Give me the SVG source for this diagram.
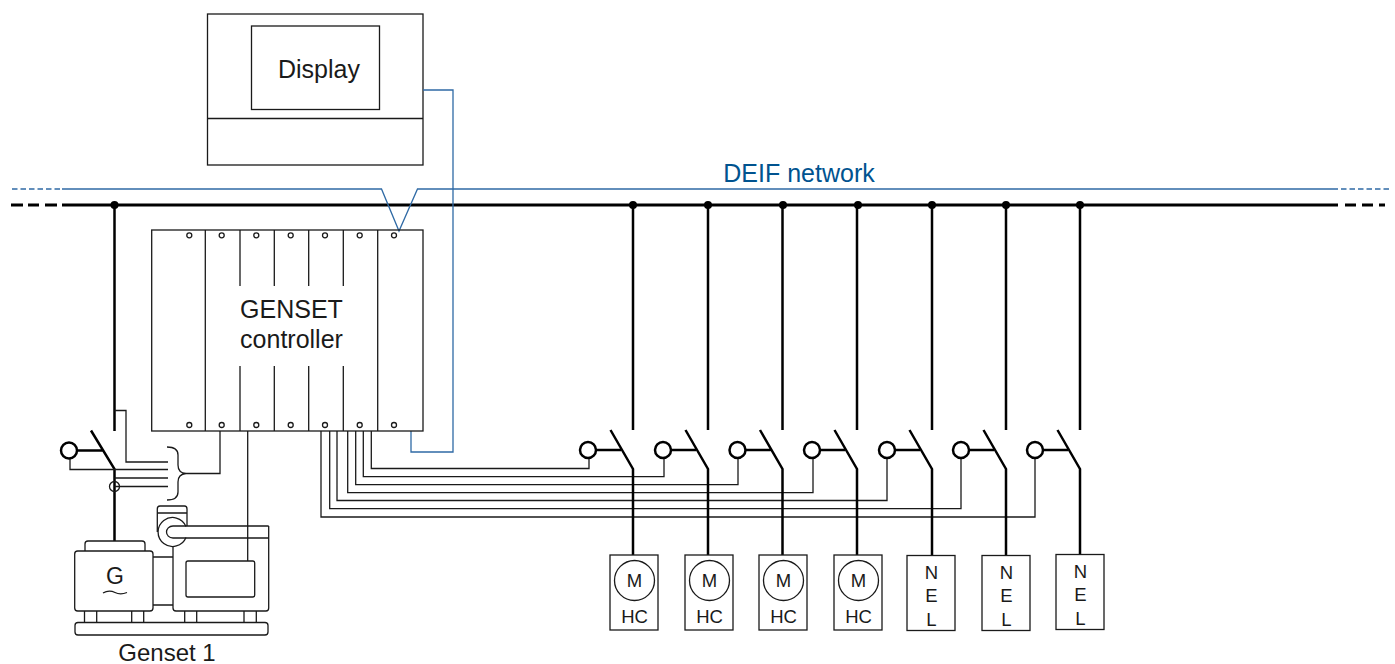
<svg xmlns="http://www.w3.org/2000/svg" width="1395" height="664" viewBox="0 0 1395 664">
<defs>
<style>
.t{font-family:"Liberation Sans",Arial,sans-serif;fill:#1a1a1a;text-anchor:middle}
.b{font-size:25px}
.s{font-size:18.5px}
.l{fill:none;stroke:#1a1a1a;stroke-width:1.3}
.h{fill:none;stroke:#000;stroke-width:2.5}
.n{fill:none;stroke:#2f6aa5;stroke-width:1.3}
.sw{fill:#fff;stroke:#000;stroke-width:2.5}
.pin{fill:#fff;stroke:#1a1a1a;stroke-width:1.3}
</style>
<g id="sw"><path class="h" d="M0 225V430M-22.500 430L0 469V555M-37 450H-12"/><circle class="sw" cx="-45" cy="450" r="8"/></g>
<g id="mot"><rect class="l" x="-23.500" y="555" width="48" height="75"/><circle class="l" cx="1" cy="580.500" r="20"/><text class="t s" x="1" y="587">M</text><text class="t s" x="1" y="623">HC</text></g>
<g id="nel"><rect class="l" x="-24.500" y="555.500" width="48" height="75"/><text class="t s" x="0" y="579">N</text><text class="t s" x="0" y="602">E</text><text class="t s" x="0" y="626">L</text></g>
</defs>
<rect width="1395" height="664" fill="#fff"/>

<g id="display">
<rect class="l" x="207.500" y="14" width="215.500" height="151"/>
<rect class="l" x="251.500" y="26" width="128" height="83.500"/>
<path class="l" d="M207.500 118.500H423"/>
<text class="t b" x="319" y="77.500">Display</text>
</g>

<g id="connectors">
<path d="M11 205H23M28 205H39M45 205H57M1345 205H1356M1362 205H1373M1379 205H1385" fill="none" stroke="#000" stroke-width="3"/>
<path d="M62 205H1338" fill="none" stroke="#000" stroke-width="3"/>
<path class="n" d="M12 189H62M1341 189H1389" stroke-dasharray="5.500 3"/>
<path class="n" d="M62 189H381.500L399 231L417.500 189H1338"/>
<path class="n" d="M423 90H453V452H411V431"/>
<g fill="#000"><circle cx="114.500" cy="205" r="4"/><circle cx="633" cy="205" r="4"/><circle cx="708" cy="205" r="4"/><circle cx="783" cy="205" r="4"/><circle cx="858" cy="205" r="4"/><circle cx="932" cy="205" r="4"/><circle cx="1006" cy="205" r="4"/><circle cx="1080" cy="205" r="4"/></g>
<path class="h" d="M114.500 205V431M91 430.500L114.500 469V541M77 450.500H103"/>
<path class="h" d="M633 205V225M708 205V225M782.500 205V225M857 205V225M932 205V225M1006 205V225M1080 205V225"/>
<path class="l" d="M114.500 410.500H126V462H168M70 458V469.500H168M114.500 478H168M114.500 486.500H168"/>
<circle class="l" cx="114.500" cy="486.500" r="5"/>
<path class="l" d="M167 447C174 447 178 449 178 455V465C178 470 180 473 186 473.500C180 474 178 477 178 482V492C178 498 174 500 167 500"/>
<path class="l" d="M186 473.500H220V431M247.700 431V561"/>
<path class="l" d="M371.300 431V468.500H589V458M363.300 431V476.700H664V458M355.700 431V484.700H738V458M347.700 431V492.700H813V458M337 431V500.500H887V458M329.700 431V508.700H961V458M321 431V517H1035V458"/>
</g>

<g id="s1"><use href="#sw" x="633"/></g>
<g id="s2"><use href="#sw" x="708"/></g>
<g id="s3"><use href="#sw" x="782.500"/></g>
<g id="s4"><use href="#sw" x="857"/></g>
<g id="s5"><use href="#sw" x="932"/></g>
<g id="s6"><use href="#sw" x="1006"/></g>
<g id="s7"><use href="#sw" x="1080"/></g>
<circle class="sw" cx="69" cy="450.500" r="8"/>

<g id="controller">
<rect class="l" x="151.700" y="230" width="271.300" height="201"/>
<path class="l" d="M205.300 230V431M377.700 230V431M240 230V286M274.300 230V286M308.700 230V286M343.300 230V286M240 366V431M274.300 366V431M308.700 366V431M343.300 366V431"/>
<g class="pin"><circle cx="189.300" cy="235.300" r="2.500"/><circle cx="221.700" cy="235.300" r="2.500"/><circle cx="256.300" cy="235.300" r="2.500"/><circle cx="290.700" cy="235.300" r="2.500"/><circle cx="325" cy="235.300" r="2.500"/><circle cx="359.700" cy="235.300" r="2.500"/><circle cx="394" cy="235.300" r="2.500"/><circle cx="189.300" cy="425" r="2.500"/><circle cx="221.700" cy="425" r="2.500"/><circle cx="256.300" cy="425" r="2.500"/><circle cx="290.700" cy="425" r="2.500"/><circle cx="325" cy="425" r="2.500"/><circle cx="359.700" cy="425" r="2.500"/><circle cx="394" cy="425" r="2.500"/></g>
<text class="t b" x="291.500" y="318">GENSET</text>
<text class="t b" x="291.500" y="348">controller</text>
</g>

<g id="genset">
<rect class="l" x="85" y="541" width="60" height="14" rx="3"/>
<rect x="74.700" y="551" width="78.300" height="60" rx="3" fill="#fff" stroke="#1a1a1a" stroke-width="1.300"/>
<path class="l" d="M153 557H173M153 605H173M84.500 611V622.500M96.700 611V622.500M131.700 611V622.500M143.700 611V622.500M184.700 611V622.500M196.700 611V622.500M244 611V622.500M256.300 611V622.500"/>
<rect class="l" x="75" y="622.500" width="193" height="12.500" rx="3"/>
<path class="l" d="M173 546V608C173 610 174 611 176 611H266C268 611 268.700 610 268.700 608V526"/>
<path class="l" d="M186 526.500A14.500 14.500 0 1 0 186 537.500"/>
<path class="l" d="M157.300 532V509C157.300 507 158.500 506 160 506H184.500C186 506 187 507 187 509V526M157.300 513H187"/>
<path class="l" d="M268.700 526H173C169 526 166.500 529 166.500 532S169 538 173 538H268.700"/>
<rect class="l" x="186" y="561" width="68.700" height="36" rx="2"/>
<text class="t" x="115" y="584" font-size="23">G</text>
<path class="l" d="M103 593C108 590 112 591 115 592.500S122 594.500 127 592.500"/>
<text class="t" x="167" y="661" font-size="24">Genset 1</text>
</g>

<g id="m1"><use href="#mot" x="633.500"/></g>
<g id="m2"><use href="#mot" x="708.500"/></g>
<g id="m3"><use href="#mot" x="782.500"/></g>
<g id="m4"><use href="#mot" x="857.500"/></g>
<g id="n1"><use href="#nel" x="931.500"/></g>
<g id="n2"><use href="#nel" x="1006.500"/></g>
<g id="n3"><use href="#nel" x="1080.500" y="-1"/></g>

<text id="net" x="799" y="181.500" font-family="'Liberation Sans',Arial,sans-serif" font-size="25" fill="#00538f" text-anchor="middle">DEIF network</text>
</svg>
